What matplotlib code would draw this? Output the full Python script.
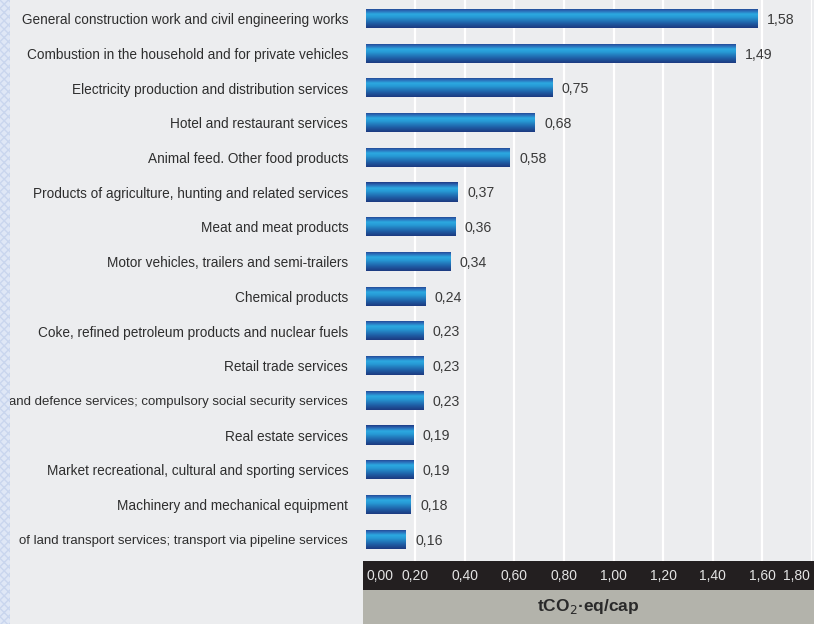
import numpy as np
import matplotlib
matplotlib.use("Agg")
import matplotlib.pyplot as plt
from matplotlib.colors import LinearSegmentedColormap
from matplotlib.patches import Rectangle

categories = [
    "General construction work and civil engineering works",
    "Combustion in the household and for private vehicles",
    "Electricity production and distribution services",
    "Hotel and restaurant services",
    "Animal feed. Other food products",
    "Products of agriculture, hunting and related services",
    "Meat and meat products",
    "Motor vehicles, trailers and semi-trailers",
    "Chemical products",
    "Coke, refined petroleum products and nuclear fuels",
    "Retail trade services",
    "and defence services; compulsory social security services",
    "Real estate services",
    "Market recreational, cultural and sporting services",
    "Machinery and mechanical equipment",
    "of land transport services; transport via pipeline services",
]
values = [1.58, 1.49, 0.75, 0.68, 0.58, 0.37, 0.36, 0.34, 0.24, 0.23, 0.23, 0.23, 0.19, 0.19, 0.18, 0.16]
tick_values = [0.0, 0.2, 0.4, 0.6, 0.8, 1.0, 1.2, 1.4, 1.6, 1.8]
tick_labels = ["0,00", "0,20", "0,40", "0,60", "0,80", "1,00", "1,20", "1,40", "1,60", "1,80"]
axis_title = r"tCO$_2$·eq/cap"

W, H = 814, 624
fig = plt.figure(figsize=(W / 100, H / 100), dpi=100)
bg = "#ecedef"
fig.patch.set_facecolor(bg)

x0, x1 = 365.5, 812
y_top, y_bot = 0, 561
ax = fig.add_axes([x0 / W, 1 - y_bot / H, (x1 - x0) / W, (y_bot - y_top) / H])
ax.set_facecolor(bg)
n = len(values)
for t in tick_values[1:]:
    ax.axvline(t, color="white", lw=1.6, zorder=0)
for s in ax.spines.values():
    s.set_visible(False)
ax.set_xticks([])
ax.set_yticks([])

pos = np.arange(n)
bars = ax.barh(pos, values, height=0.55, color="none", edgecolor="none", zorder=2)

cmap = LinearSegmentedColormap.from_list("bar", [
    (0.0, "#1d3c86"), (0.12, "#2a66b3"), (0.3, "#2ca9e1"), (0.45, "#279ad5"),
    (0.75, "#1f60a8"), (1.0, "#1c3a80")])
grad = np.linspace(0, 1, 64).reshape(-1, 1)
for b, v, y in zip(bars, values, pos):
    h = b.get_height()
    im = ax.imshow(grad, cmap=cmap, aspect="auto", zorder=3,
                   extent=(0, v, y + h / 2, y - h / 2), origin="upper", interpolation="bilinear")
    im.set_clip_path(b)
    ax.text(v + 0.04, y + 0.04, f"{v:.2f}".replace(".", ","), va="center", ha="left",
            fontsize=10.2, color="#3a3a3a", family="Liberation Sans", zorder=4)
ax.set_xlim(0, 1.8)
ax.set_ylim(n - 1 + 0.63, -0.53)

# category labels
for c, y in zip(categories, pos):
    fs = 9.8 if len(c) < 56 else 9.5
    ax.text(-0.07, y + 0.05, c, va="center", ha="right", fontsize=fs, color="#2e2e2e",
            family="Liberation Sans", transform=ax.transData, clip_on=False)

# dark tick strip
bx0 = 363
dark = fig.add_axes([bx0 / W, 1 - 590 / H, (W - bx0) / W, (590 - 561) / H])
dark.set_facecolor("#231f20")
dark.set_xlim(0 - (x0 - bx0) / (x1 - x0) * 1.8, 1.8 + (W - x1) / (x1 - x0) * 1.8)
dark.set_ylim(0, 1)
for s in dark.spines.values():
    s.set_visible(False)
dark.set_xticks([]); dark.set_yticks([])
for i, (t, lab) in enumerate(zip(tick_values, tick_labels)):
    ha = "center"
    xx = t
    if i == 0:
        ha = "left"; xx = t + 0.005
    elif i == len(tick_values) - 1:
        ha = "right"; xx = t - 0.01
    dark.text(xx, 0.5, lab, ha=ha, va="center", color="#e4e4e4", fontsize=10,
              family="Liberation Sans")

gray = fig.add_axes([bx0 / W, 0, (W - bx0) / W, (H - 590) / H])
gray.set_facecolor("#b3b3ab")
for s in gray.spines.values():
    s.set_visible(False)
gray.set_xticks([]); gray.set_yticks([])
gray.text(0.5, 0.5, axis_title, ha="center", va="center", fontsize=12.5, color="#2a2a2a",
          family="Liberation Sans", fontweight="bold", transform=gray.transAxes)

# left pattern strip
strip = fig.add_axes([0, 0, 10 / W, 1])
strip.set_facecolor("#dfe7f6")
strip.add_patch(Rectangle((0, 0), 1, 1, transform=strip.transAxes, facecolor="#dfe7f6",
                          edgecolor="#c9d6ee", hatch="xxxx", linewidth=0))
strip.axis("off")

fig.savefig("out.png", dpi=100, facecolor=fig.get_facecolor())
